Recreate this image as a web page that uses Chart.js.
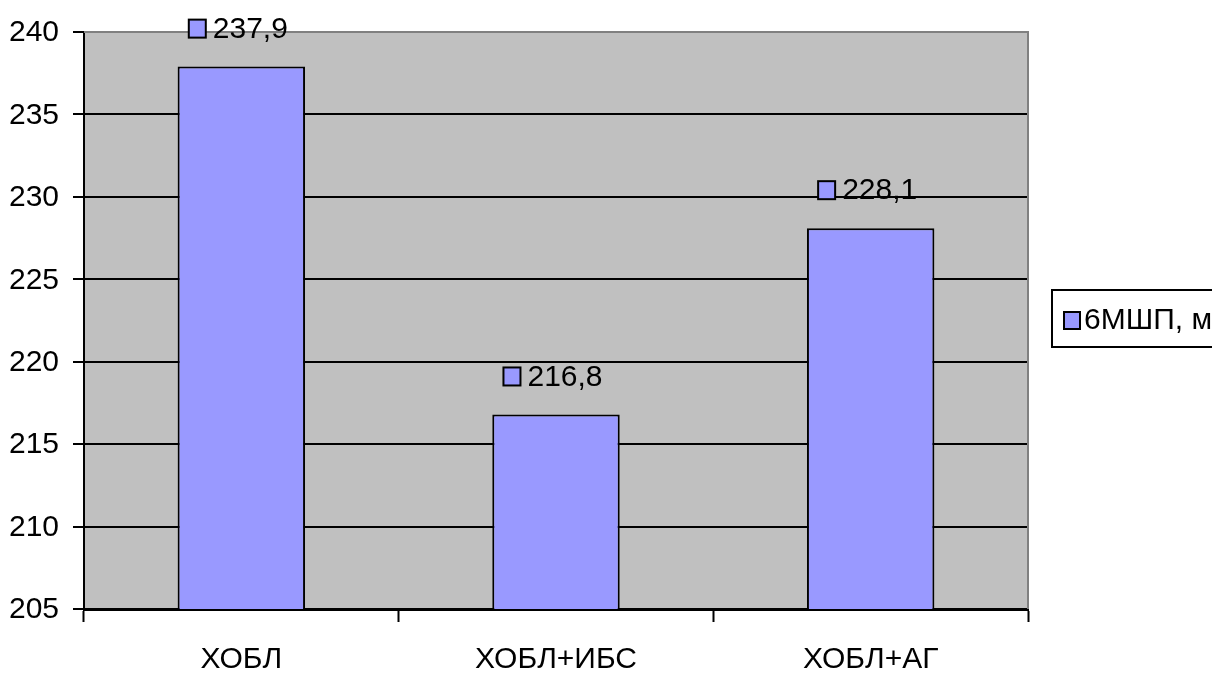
<!DOCTYPE html>
<html>
<head>
<meta charset="utf-8">
<script src="https://cdn.jsdelivr.net/npm/chart.js@4/dist/chart.umd.min.js"></script>
<style>
  html, body { margin: 0; padding: 0; background: #ffffff; }
  #wrap { width: 1212px; height: 674px; position: relative; }
</style>
</head>
<body>
<div id="wrap"><canvas id="c" width="1212" height="674"></canvas></div>
<script>
// Groups and the mean 6-minute walk distance for each
const categories = ['ХОБЛ', 'ХОБЛ+ИБС', 'ХОБЛ+АГ'];
const walkDistance = [237.9, 216.8, 228.1];
const seriesName = '6МШП, м';
const yTicks = [205, 210, 215, 220, 225, 230, 235, 240];

const FONT = "'Liberation Sans', Arial, sans-serif";
const FONT_SIZE = 30;
const BAR_FILL = '#9999FF';
const PLOT_FILL = '#C0C0C0';

function drawText(ctx, text, x, y, align) {
  ctx.save();
  ctx.font = FONT_SIZE + 'px ' + FONT;
  ctx.textAlign = align;
  ctx.textBaseline = 'middle';
  ctx.fillStyle = '#000';
  ctx.fillText(text, x, y);
  ctx.restore();
}
function textWidth(ctx, text) {
  ctx.save();
  ctx.font = FONT_SIZE + 'px ' + FONT;
  const w = ctx.measureText(text).width;
  ctx.restore();
  return w;
}

// Gray plot background and gray frame on the top and right edges
const plotArea = {
  id: 'plotArea',
  beforeDraw(chart) {
    const { ctx, chartArea: a } = chart;
    ctx.save();
    ctx.fillStyle = PLOT_FILL;
    ctx.fillRect(a.left, a.top, a.right - a.left, a.bottom - a.top);
    ctx.restore();
  },
  beforeDatasetsDraw(chart) {
    const { ctx, chartArea: a } = chart;
    ctx.save();
    ctx.strokeStyle = '#808080';
    ctx.lineWidth = 2;
    ctx.beginPath();
    ctx.moveTo(a.left, a.top);
    ctx.lineTo(a.right, a.top);
    ctx.lineTo(a.right, a.bottom);
    ctx.stroke();
    ctx.restore();
  }
};

// Axis tick labels, placed from the scales
const axisLabels = {
  id: 'axisLabels',
  afterDraw(chart) {
    const { ctx } = chart;
    const y = chart.scales.y, x = chart.scales.x;
    y.ticks.forEach(t => {
      drawText(ctx, String(t.value), y.right - 25, y.getPixelForValue(t.value) + 1, 'right');
    });
    chart.data.labels.forEach((lab, i) => {
      drawText(ctx, lab, x.getPixelForTick(i), x.top + 51, 'center');
    });
  }
};

function keySquare(ctx, x, y, w, h) {
  ctx.fillStyle = BAR_FILL;
  ctx.fillRect(x, y, w, h);
  ctx.strokeStyle = '#000';
  ctx.lineWidth = 2;
  ctx.strokeRect(x, y, w, h);
}

// Value labels above each bar, preceded by the series key
const valueLabels = {
  id: 'valueLabels',
  afterDatasetsDraw(chart) {
    const { ctx } = chart;
    const meta = chart.getDatasetMeta(0);
    meta.data.forEach((bar, i) => {
      const txt = walkDistance[i].toFixed(1).replace('.', ',');
      const tw = textWidth(ctx, txt);
      const sq = 17, gap = 7;
      const total = sq + gap + tw;
      const x0 = bar.x - total / 2 - 3;
      const cy = bar.y - 38;
      ctx.save();
      keySquare(ctx, x0, cy - 9, sq, 18);
      ctx.restore();
      drawText(ctx, txt, x0 + sq + gap, cy + 1, 'left');
    });
  }
};

// Legend box at the right edge
const legendBox = {
  id: 'legendBox',
  afterDraw(chart) {
    const { ctx } = chart;
    ctx.save();
    ctx.fillStyle = '#fff';
    ctx.fillRect(1052, 290, 170, 57);
    ctx.strokeStyle = '#000';
    ctx.lineWidth = 2;
    ctx.strokeRect(1052, 290, 170, 57);
    keySquare(ctx, 1064, 312, 16, 17);
    ctx.restore();
    drawText(ctx, seriesName, 1084, 321, 'left');
  }
};

new Chart(document.getElementById('c'), {
  type: 'bar',
  data: {
    labels: categories,
    datasets: [{
      label: seriesName,
      data: walkDistance,
      backgroundColor: BAR_FILL,
      borderColor: '#000',
      borderWidth: 2,
      borderSkipped: false,
      barPercentage: 0.405,
      categoryPercentage: 1
    }]
  },
  options: {
    responsive: false,
    animation: false,
    layout: { padding: { top: 32, right: 184, left: 0, bottom: 0 } },
    plugins: { legend: { display: false }, tooltip: { enabled: false } },
    scales: {
      x: {
        offset: true,
        grid: {
          offset: true,
          drawOnChartArea: false,
          drawTicks: true,
          tickLength: 13,
          tickWidth: 2,
          tickColor: '#000'
        },
        border: { display: true, color: '#000', width: 3 },
        ticks: { display: false },
        afterFit(scale) { scale.height = 65; }
      },
      y: {
        min: 205,
        max: 240,
        afterBuildTicks(scale) { scale.ticks = yTicks.map(v => ({ value: v })); },
        grid: {
          color: ctx => (ctx.tick && ctx.tick.value === 240) ? 'rgba(0,0,0,0)' : '#000',
          lineWidth: 2,
          drawTicks: true,
          tickLength: 11,
          tickColor: '#000',
          tickWidth: 2
        },
        border: { display: true, color: '#000', width: 2 },
        ticks: { display: false },
        afterFit(scale) { scale.width = 84; }
      }
    }
  },
  plugins: [plotArea, axisLabels, valueLabels, legendBox]
});
</script>
</body>
</html>
